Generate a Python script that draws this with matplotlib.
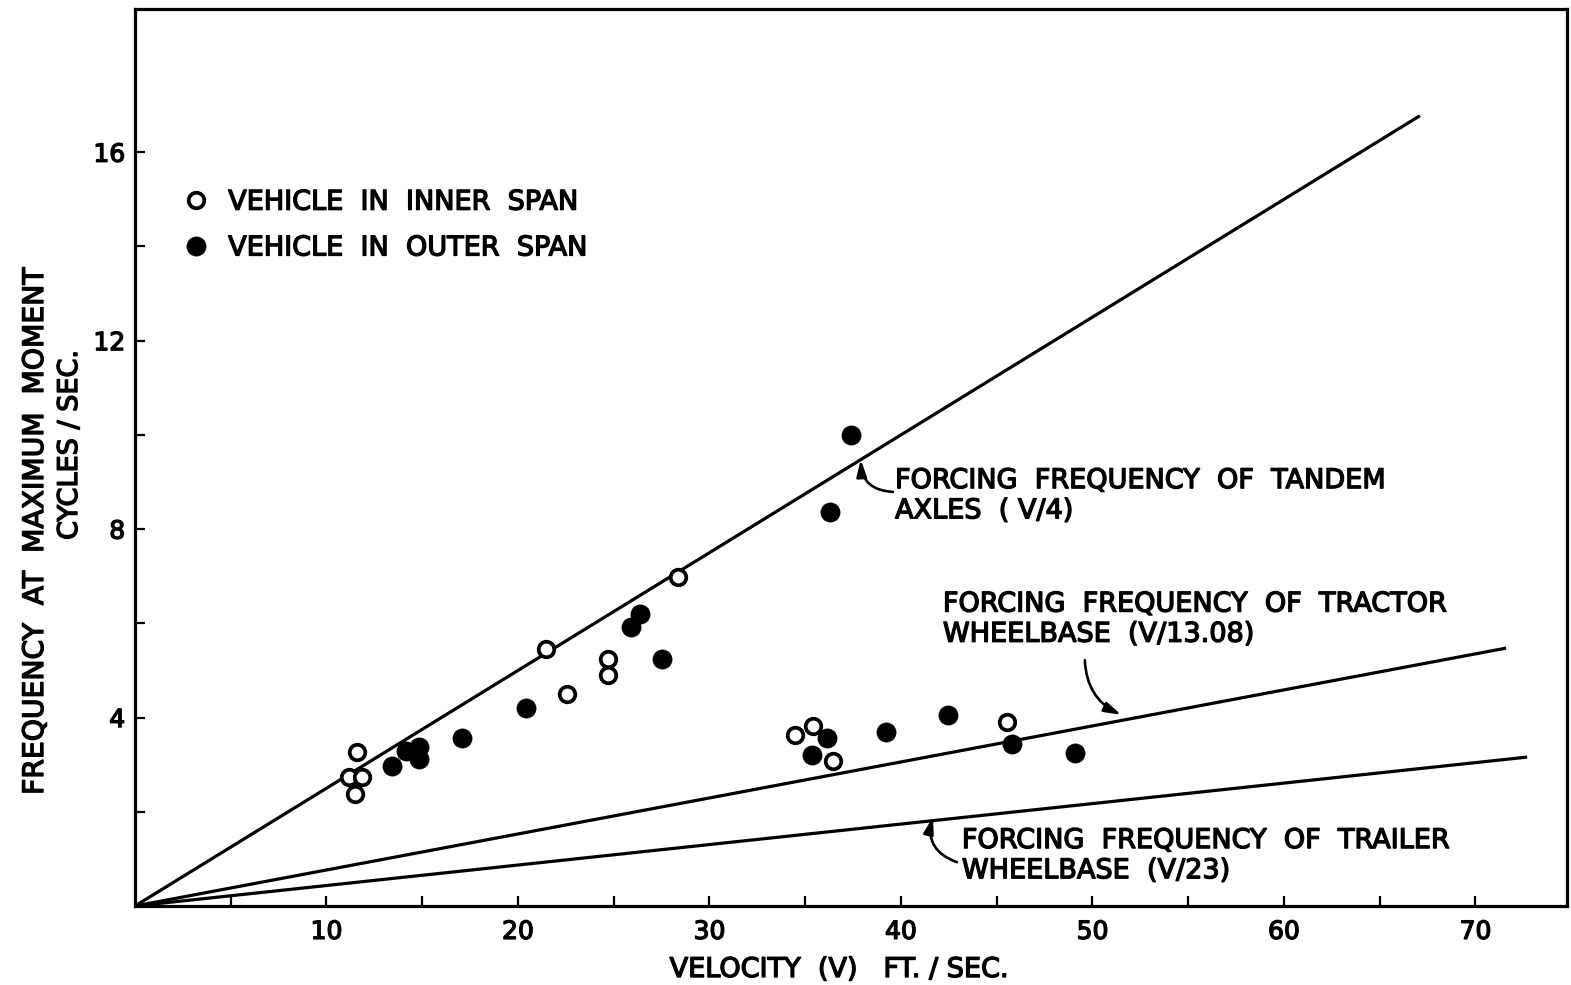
import matplotlib
matplotlib.use("Agg")
import matplotlib.pyplot as plt
from matplotlib.lines import Line2D
from matplotlib.ticker import FixedLocator, NullFormatter
import matplotlib.patheffects as pe

# Vehicle in inner span (open circles): velocity ft/sec, frequency cycles/sec
inner_v = [11.58, 11.19, 11.87, 11.49, 21.45, 22.56, 24.72, 24.72, 28.34,
           34.46, 35.42, 36.46, 45.52]
inner_f = [3.26, 2.73, 2.73, 2.38, 5.45, 4.50, 5.24, 4.90, 6.98,
           3.63, 3.82, 3.08, 3.90]

# Vehicle in outer span (filled circles)
outer_v = [13.44, 14.15, 14.81, 14.85, 17.06, 20.40, 25.88, 26.37, 27.50,
           37.39, 36.27, 36.15, 35.34, 39.20, 42.44, 45.81, 49.09]
outer_f = [2.97, 3.28, 3.38, 3.11, 3.56, 4.20, 5.93, 6.20, 5.25,
           10.00, 8.37, 3.56, 3.21, 3.70, 4.06, 3.43, 3.24]

# Forcing-frequency lines  f = V / d
divisors = [4, 13.08, 23]
line_ends = [67.1, 71.6, 72.7]

x_major = [10, 20, 30, 40, 50, 60, 70]
x_minor = [5, 15, 25, 35, 45, 55, 65]
y_major = [4, 8, 12, 16]
y_minor = [2, 6, 10, 14]

FONT = "DejaVu Sans"
thick = [pe.withStroke(linewidth=1.0, foreground="black")]
plt.rcParams["font.family"] = [FONT]

fig = plt.figure(figsize=(15.71, 9.85), dpi=100)
ax = fig.add_axes([135 / 1571, 79 / 985, 1432 / 1571, 897 / 985])
ax.set_xlim(0, 74.78)
ax.set_ylim(0, 19.04)

for d, xe in zip(divisors, line_ends):
    ax.plot([0, xe], [0, xe / d], color="black", lw=2.3, zorder=2,
            solid_capstyle="butt")

OPEN = dict(marker="o", ms=11.2, mfc="white", mec="black", mew=2.7)
FILLED = dict(marker="o", ms=13.8, mfc="black", mec="black", mew=0.5)

ax.plot(outer_v, outer_f, linestyle="none", zorder=3, **FILLED)
ax.plot(inner_v, inner_f, linestyle="none", zorder=4, **OPEN)

for s in ax.spines.values():
    s.set_linewidth(2.3)

ax.xaxis.set_major_locator(FixedLocator(x_major))
ax.xaxis.set_minor_locator(FixedLocator(x_minor))
ax.yaxis.set_major_locator(FixedLocator(y_major))
ax.yaxis.set_minor_locator(FixedLocator(y_minor))
ax.xaxis.set_minor_formatter(NullFormatter())
ax.yaxis.set_minor_formatter(NullFormatter())
ax.tick_params(which="both", direction="in", length=7, width=1.6)
ax.tick_params(axis="x", which="major", labelsize=18, pad=10)
ax.tick_params(axis="y", which="major", labelsize=18, pad=7)
for lab in ax.get_xticklabels() + ax.get_yticklabels():
    lab.set_path_effects(thick)

TS = 19.5

# Legend
handles = [
    Line2D([], [], linestyle="none", label="VEHICLE  IN  INNER  SPAN", **OPEN),
    Line2D([], [], linestyle="none", label="VEHICLE  IN  OUTER  SPAN", **FILLED),
]
leg = ax.legend(handles=handles, loc="upper left",
                bbox_to_anchor=(0.0333, 0.7986), frameon=False,
                handlelength=1.0, handletextpad=0.68, labelspacing=0.73,
                borderaxespad=0, borderpad=0, fontsize=TS)
for t in leg.get_texts():
    t.set_path_effects(thick)

# Annotation texts (first-line baselines in data units)
notes = [
    (39.69, 8.87, "FORCING  FREQUENCY  OF  TANDEM", "AXLES  ( V/4)"),
    (42.19, 6.25, "FORCING  FREQUENCY  OF  TRACTOR", "WHEELBASE  (V/13.08)"),
    (43.18, 1.23, "FORCING  FREQUENCY  OF  TRAILER", "WHEELBASE  (V/23)"),
]
for x0, y0, l1, l2 in notes:
    ax.text(x0, y0, l1, fontsize=TS, ha="left", va="baseline",
            path_effects=thick)
    ax.text(x0, y0 - 0.64, l2, fontsize=TS, ha="left", va="baseline",
            path_effects=thick)

arrow = dict(arrowstyle="-|>,head_length=1.0,head_width=0.3", color="black",
             lw=1.9, shrinkA=0, shrinkB=0)
ax.annotate("", xy=(37.9, 37.9 / 4), xytext=(39.58, 8.79),
            arrowprops=dict(arrow, connectionstyle="arc3,rad=-0.45"))
ax.annotate("", xy=(51.5, 51.5 / 13.08 + 0.12), xytext=(49.6, 5.22),
            arrowprops=dict(arrow, connectionstyle="arc3,rad=0.3"))
ax.annotate("", xy=(41.67, 41.67 / 23 + 0.08), xytext=(42.92, 0.93),
            arrowprops=dict(arrow, connectionstyle="arc3,rad=-0.45"))

# Axis labels
fig.text(839 / 1571, 1 - 977 / 985, "VELOCITY  (V)   FT. / SEC.",
         fontsize=TS, ha="center", va="baseline", path_effects=thick)
fig.text(35 / 1571, 1 - 531 / 985, "FREQUENCY  AT  MAXIMUM  MOMENT",
         fontsize=20.3, rotation=90, ha="center", va="center",
         path_effects=thick)
fig.text(70 / 1571, 1 - 445 / 985, "CYCLES / SEC.", fontsize=TS,
         rotation=90, ha="center", va="center", path_effects=thick)

fig.savefig("out.png", dpi=100)
